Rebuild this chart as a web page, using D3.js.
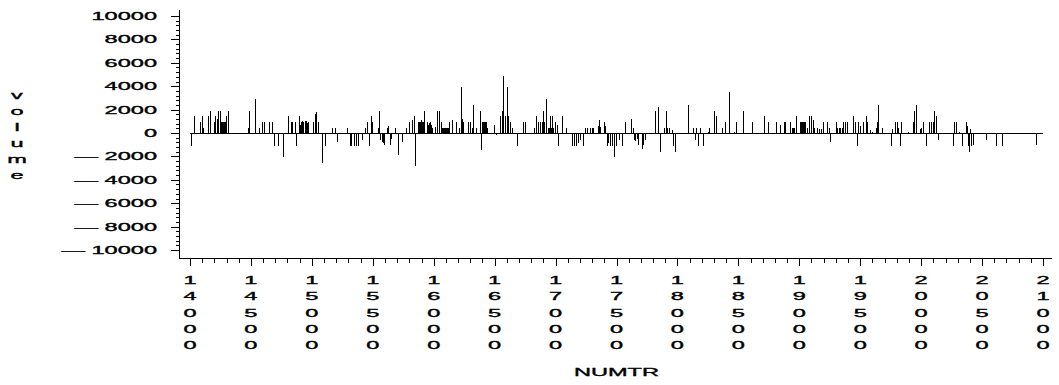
<!DOCTYPE html>
<html><head><meta charset="utf-8">
<script src="https://cdn.jsdelivr.net/npm/d3@7"></script>
<style>body{margin:0;background:#fff}svg{display:block}</style>
</head><body>
<svg id="c" width="1059" height="385"></svg>
<script>
// ---- data ----
const numtr = [
14008,14030,14080,14096,14107,14145,14162,14194,14205,14219,14230,14246,14254,14263,14271,14279,14287,14295,14314,14473,14487,14533,14566,14588,14605,14648,14675,14687,
14725,14766,14802,14826,14837,14862,14870,14892,14899,14907,14915,14923,14931,14940,14948,14956,14964,14972,15012,15026,15034,15053,15081,15108,15163,15192,15209,15291,15313,15324,15346,15362,15381,
15409,15436,15452,15469,15485,15496,15540,15551,15562,15573,15584,15594,15617,15627,15639,15649,15682,15704,15737,15770,15797,15819,15836,15846,15871,15879,15887,15896,15904,15912,15923,15945,15953,15961,15969,15978,15988,16010,16024,16043,16060,
16068,16076,16084,16093,16101,16109,16117,16128,16147,16183,16205,16221,16232,16243,16281,16298,16314,16325,16347,16380,16391,16396,16404,16413,16421,16429,16437,16495,16511,16544,16558,16571,16585,16599,16612,16626,16640,16686,16735,16749,
16825,16837,16853,16875,16886,16897,16907,16919,16935,16944,16954,16962,16973,16981,16995,17009,17022,17055,17083,17132,17148,17165,17181,17200,17227,17241,17255,17282,17296,17309,17346,17356,17367,17395,17405,17419,17432,17447,17461,17477,
17496,17518,17543,17570,17619,17633,17644,17654,17666,17679,17707,17720,17734,17816,17843,17857,17892,17906,17917,17933,17953,17961,17977,18089,18125,18141,18152,18169,
18185,18212,18248,18259,18297,18314,18363,18390,18425,18466,18478,18540,18614,18713,18745,18806,18842,18872,
18883,18924,18938,18946,18957,18971,19006,19014,19022,19031,19039,19047,19061,19082,19094,19115,19121,19143,19164,19176,19192,19227,19244,19255,19299,19310,19323,19334,19348,19356,19375,19389,19443,19457,19471,19484,19498,19525,19547,19558,
19580,19594,19627,19637,19648,19681,19752,19758,19785,19799,19812,19826,19834,19889,19935,19943,19955,19988,19999,20018,20037,20064,20081,20097,20108,20124,20136,20264,20267,
20286,20311,20338,20367,20377,20386,20394,20401,20411,20427,20532,20614,20661,20942
];
const volume = [
-1000,1500,1000,1500,500,1500,2000,1000,1500,1300,2000,2000,1000,1000,1000,1000,1000,1500,2000,500,2000,3000,500,1000,1000,1000,1000,-1000,
-1000,-2000,1500,1000,1000,1000,-1000,1500,800,1000,900,1100,1000,1100,1000,1100,900,1000,1000,1700,1900,1000,-2500,-1000,500,500,-700,500,-1000,-1000,-1000,-1000,-1000,
-500,500,1000,-1000,1500,1000,500,2000,-500,-700,-800,-900,500,700,-900,-400,500,-1800,-700,500,1000,1200,1500,-2700,1000,1000,1000,1200,1000,1000,2000,1000,800,900,1000,800,500,600,2000,2000,1000,
500,500,500,500,500,500,500,1000,1200,1000,500,4000,1300,1000,1000,1000,500,2500,500,2000,-1400,1000,1000,1000,1000,1000,500,800,-100,1500,2000,5000,1500,4000,1500,1000,500,-1000,1000,1000,
500,1500,1000,1000,1000,2000,1000,3000,500,500,1500,500,1500,500,1000,800,-1000,1500,500,-1000,-1000,-1000,-800,-500,-1000,500,500,500,500,500,700,1200,600,1000,700,-1000,-800,-1000,-1000,-2000,
-1000,-500,-1000,1000,1300,500,-500,-600,-400,-900,-1300,-900,-500,2000,2300,-1500,500,2000,500,500,300,-1000,-1500,2500,500,-500,500,-1000,
500,-1000,200,500,2000,1500,500,1000,3600,200,1000,2000,1000,1500,1000,1000,800,1000,
1000,1000,500,500,500,1500,1000,1000,1000,1000,1000,1000,500,1500,1500,1200,500,500,400,400,1000,1000,500,-700,1000,500,500,500,500,1000,1000,1000,1500,1000,-1000,1000,700,1000,1500,1000,
300,200,500,1000,2500,500,-1000,400,1000,1000,500,-1000,1000,200,1000,2000,2500,400,500,1000,-1000,1000,1000,1000,2000,1500,-500,-1000,1000,
1000,200,-1000,1000,700,-1000,-1500,400,-1000,-900,-500,-1000,-1000,-900
];
const yTickValues = [-10000,-8000,-6000,-4000,-2000,0,2000,4000,6000,8000,10000];
const xTickValues = [14000,14500,15000,15500,16000,16500,17000,17500,18000,18500,19000,19500,20000,20500,21000];
const xTitle = "NUMTR";
const yTitle = "volume";

// ---- drawing ----
const SX = 2.05, FS = 11.5;
const svg = d3.select("#c")
  .style("font-family", "'Liberation Sans', Arial, sans-serif")
  .style("font-weight", "normal")
  .style("font-size", FS + "px");

const x = d3.scaleLinear().domain([14000, 21000]).range([190, 1043]);
const y = d3.scaleLinear().domain([-10000, 10000]).range([250, 16]);

const AX = 179, AY = 258;

function stext(x0, y0, str, anchor) {
  svg.append("text")
    .attr("transform", `translate(${x0},${y0}) scale(${SX},1)`)
    .attr("text-anchor", anchor)
    .attr("fill", "#000")
    .attr("stroke", "#000")
    .attr("stroke-width", 0.35)
    .text(str);
}

// minor / major ticks y
const gy = svg.append("g").attr("transform", `translate(${AX + 0.5},0)`).attr("shape-rendering", "crispEdges");
gy.call(d3.axisLeft(y).tickValues(d3.range(-10000, 10001, 400)).tickSize(4).tickFormat(""));
gy.call(g => g.select(".domain").remove());
const gy2 = svg.append("g").attr("transform", `translate(${AX + 0.5},0)`).attr("shape-rendering", "crispEdges");
gy2.call(d3.axisLeft(y).tickValues(yTickValues).tickSize(9).tickFormat(""));
gy2.call(g => g.select(".domain").remove());

const gx = svg.append("g").attr("transform", `translate(0,${AY + 0.5})`).attr("shape-rendering", "crispEdges");
gx.call(d3.axisBottom(x).tickValues(d3.range(14000, 21001, 100)).tickSize(4).tickFormat(""));
gx.call(g => g.select(".domain").remove());
const gx2 = svg.append("g").attr("transform", `translate(0,${AY + 0.5})`).attr("shape-rendering", "crispEdges");
gx2.call(d3.axisBottom(x).tickValues(xTickValues).tickSize(7).tickFormat(""));
gx2.call(g => g.select(".domain").remove());

svg.selectAll(".tick line").attr("stroke", "#000");

// axis lines
svg.append("line").attr("x1", AX + 0.5).attr("x2", AX + 0.5).attr("y1", 10).attr("y2", AY + 0.5)
  .attr("stroke", "#000").attr("shape-rendering", "crispEdges");
svg.append("line").attr("x1", AX).attr("x2", 1052).attr("y1", AY + 0.5).attr("y2", AY + 0.5)
  .attr("stroke", "#000").attr("shape-rendering", "crispEdges");

// y tick labels
yTickValues.forEach(v => {
  const s = v < 0 ? "\u2014 " + Math.abs(v) : String(v);
  stext(157, y(v) + 4, s, "end");
});

// x tick labels (digits stacked)
xTickValues.forEach(v => {
  String(v).split("").forEach((ch, i) => {
    stext(x(v), 284 + i * 16.3, ch, "middle");
  });
});

// titles
stext((x(14000) + x(21000)) / 2, 376, xTitle, "middle");
yTitle.split("").forEach((ch, i) => {
  stext(17, 99 + i * 16, ch, "middle");
});

// zero reference line
svg.append("line")
  .attr("x1", x(14000)).attr("x2", x(21000))
  .attr("y1", Math.round(y(0)) + 0.5).attr("y2", Math.round(y(0)) + 0.5)
  .attr("stroke", "#000").attr("shape-rendering", "crispEdges");

// needles
const data = numtr.map((n, i) => ({ n, v: volume[i] }));
svg.append("g").attr("shape-rendering", "crispEdges")
  .selectAll("line").data(data).join("line")
  .attr("x1", d => Math.round(x(d.n)) + 0.5)
  .attr("x2", d => Math.round(x(d.n)) + 0.5)
  .attr("y1", Math.round(y(0)) + 0.5)
  .attr("y2", d => Math.round(y(d.v)) + 0.5)
  .attr("stroke", "#000").attr("stroke-width", 1);
</script>
</body></html>
